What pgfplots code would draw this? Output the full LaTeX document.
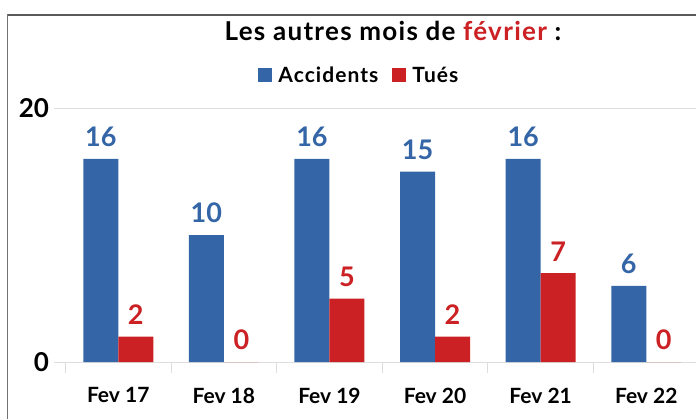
\documentclass[border=0pt]{standalone}
\usepackage{pgfplots}
\pgfplotsset{compat=1.18}
\usepackage{fontspec}
\setmainfont{Lato}
\newfontfamily\widefont{Lato}[LetterSpace=5]
\definecolor{frblue}{RGB}{52,101,166}
\definecolor{frred}{RGB}{204,33,36}
\definecolor{gridgray}{RGB}{222,222,222}
\begin{document}
\begin{tikzpicture}[x=1pt,y=1pt]
\draw[line width=2pt, color=black!65] (7,403) -- (700,403);
\draw[line width=1.5pt, color=black!55] (7.5,404) -- (7.5,-2);
\node[font=\fontsize{26}{26}\widefont\bfseries, anchor=center] at (393,387)
  {Les autres mois de \textcolor{frred}{février} :};
\begin{axis}[
  at={(62,44)}, anchor=south west,
  scale only axis, width=633.6pt, height=254pt,
  xmin=-0.5, xmax=5.5, ymin=0, ymax=20,
  xtick pos=bottom, ytick pos=left,
  axis line style={draw=none},
  ybar, bar width=35pt,
  xtick={-0.5,0.5,1.5,2.5,3.5,4.5,5.5},
  x tick label as interval,
  xticklabels={Fev 17,Fev 18,Fev 19,Fev 20,Fev 21,Fev 22},
  ytick={0,20},
  ymajorgrids, grid style={color=gridgray, line width=0.8pt},
  tick align=outside, major tick length=11pt,
  tick style={color=gridgray, line width=0.8pt},
  /pgf/number format/assume math mode=true,
  xticklabel style={font=\fontsize{21}{21}\selectfont\bfseries, yshift=-11pt},
  yticklabel style={font=\fontsize{26}{26}\selectfont\bfseries, xshift=-2pt},
  nodes near coords,
  every node near coord/.append style={font=\fontsize{27}{27}\selectfont\bfseries, yshift=8.5pt},
  clip=false,
  legend style={at={(0.464,1.13)}, anchor=center, draw=none, fill=none,
    legend columns=-1, font=\fontsize{21}{21}\widefont\bfseries,
    /tikz/every even column/.append style={column sep=12pt},
    /tikz/every odd column/.append style={column sep=4pt}},
  legend image code/.code={\fill[#1] (0pt,-7pt) rectangle (14pt,7pt);},
]
\addplot[fill=frblue, draw=none, bar shift=-17.5pt,
  every node near coord/.append style={text=frblue}]
  coordinates {(0,16) (1,10) (2,16) (3,15) (4,16) (5,6)};
\addplot[fill=frred, draw=none, bar shift=17.5pt,
  every node near coord/.append style={text=frred}]
  coordinates {(0,2) (1,0) (2,5) (3,2) (4,7) (5,0)};
\legend{Accidents, Tués}
\end{axis}
\pgfresetboundingbox
\useasboundingbox (0,0) rectangle (696,418);
\end{tikzpicture}
\end{document}
